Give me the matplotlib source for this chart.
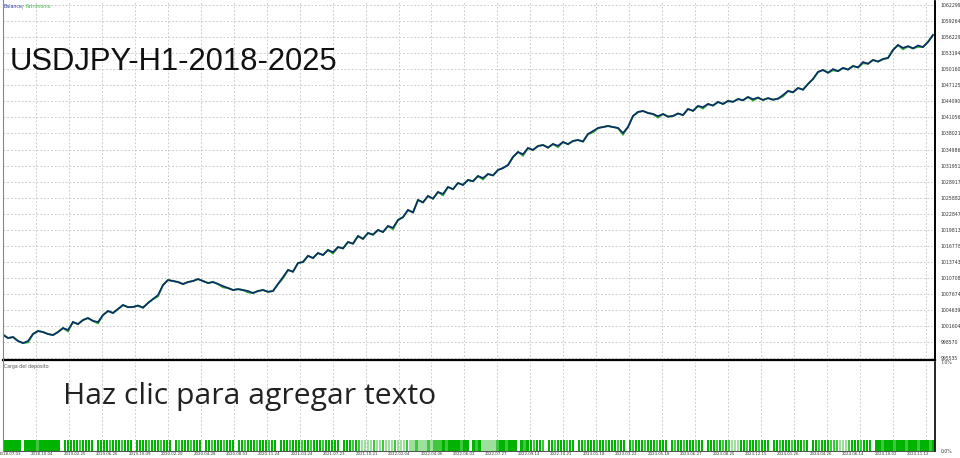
import matplotlib
matplotlib.use("Agg")
import matplotlib.pyplot as plt
from matplotlib.lines import Line2D

# ---------------- data ----------------
balance = [
    1000000, 999360, 999550, 998800, 998420, 998800, 1000120, 1000690, 1000500, 1000120,
    999930, 1000500, 1001250, 1000900, 1002390, 1002000, 1002770, 1003140, 1002600, 1002390,
    1003710, 1004470, 1004100, 1004840, 1005600, 1005200, 1005220, 1005500, 1005100, 1005980,
    1006730, 1007490, 1009380, 1010330, 1010140, 1009950, 1009570, 1009950, 1010140, 1010510,
    1010140, 1009760, 1009950, 1009570, 1009190, 1008810, 1008440, 1008600, 1008440, 1008250,
    1007870, 1008250, 1008440, 1008100, 1008250, 1009570, 1010890, 1012220, 1011900, 1013540,
    1013730, 1014900, 1014480, 1015430, 1015050, 1016000, 1015600, 1016560, 1016300, 1017510,
    1017200, 1018640, 1018100, 1019210, 1018900, 1019780, 1019400, 1020530, 1020200, 1021670,
    1022200, 1023560, 1023100, 1025450, 1025000, 1026200, 1025700, 1026960, 1026600, 1027900,
    1027500, 1028660, 1028300, 1029230, 1029000, 1029980, 1029600, 1030360, 1030100, 1031120,
    1031490, 1032060, 1033570, 1034520, 1034100, 1035270, 1034900, 1035650, 1035840, 1035350,
    1036030, 1035700, 1036410, 1036000, 1036600, 1036790, 1036500, 1037920, 1038490, 1039050,
    1039240, 1039430, 1039240, 1039050, 1038110, 1039240, 1041320, 1042080, 1042270, 1041890,
    1041700, 1041300, 1041700, 1041200, 1041320, 1041800, 1041500, 1042640, 1042300, 1043210,
    1043000, 1043590, 1043300, 1043970, 1043600, 1044160, 1044000, 1044530, 1044300, 1044910,
    1044500, 1044800, 1044350, 1044700, 1044400, 1044600, 1045290, 1046050, 1045800, 1046610,
    1046300, 1047370, 1048310, 1049640, 1050020, 1049500, 1050200, 1049800, 1050400, 1050100,
    1050770, 1050500, 1051530, 1051200, 1051910, 1051600, 1052090, 1052280, 1053800, 1054740,
    1054200, 1054500, 1054100, 1054650, 1054360, 1055310, 1056630,
]

# equity differs from balance only at a few trades (index: value)
equity_changes = {
    5: 998550, 13: 1000650, 19: 1002150, 31: 1007250, 44: 1008950, 49: 1008000,
    56: 1010650, 66: 1015350, 78: 1019950, 88: 1026350, 96: 1029350, 104: 1033850,
    111: 1035450, 118: 1038250, 124: 1037850, 131: 1041050, 140: 1042750,
    150: 1044250, 156: 1045050, 166: 1049950, 172: 1051300, 180: 1053950, 183: 1054400,
}

y_ticks = [995535, 998570, 1001604, 1004639, 1007674, 1010708, 1013743, 1016778,
           1019813, 1022847, 1025882, 1028917, 1031951, 1034986, 1038021, 1041056,
           1044090, 1047125, 1050160, 1053194, 1056229, 1059264, 1062299]

x_tick_labels = ["2018.07.03", "2018.10.04", "2019.02.25", "2019.06.26", "2019.10.09",
                 "2020.02.20", "2020.04.28", "2020.08.03", "2020.11.24", "2021.03.24",
                 "2021.07.23", "2021.10.21", "2022.02.04", "2022.04.06", "2022.06.02",
                 "2022.07.27", "2022.09.14", "2022.10.21", "2023.01.18", "2023.03.22",
                 "2023.05.18", "2023.06.27", "2023.08.25", "2023.12.15", "2024.01.26",
                 "2024.04.26", "2024.06.14", "2024.10.02", "2024.11.12"]

# deposit load per trade: '0' = no position, 1/2/3 = colour shade of the bar
load_pattern = (
    "11111101111211111110111112111101111211121110111121"
    "11211101211121110112111211101121112111211011121112"
    "11211121111101112123333233233323332332333232221211"
    "11211012133333211211101211211201121112110112111211"
    "21112110121112111211101211211121101112121233311211"
    "12111011211121112101121112223332111211101121112111"
    "2111211121"
)
load_level = 0.87      # deposit load, %
load_max = 7.0

# ---------------- layout helpers ----------------
W, H = 960, 458
fig = plt.figure(figsize=(W / 100, H / 100), dpi=100)
fig.patch.set_facecolor("white")


def fx(px):
    return px / W


def fy(py):
    return 1 - py / H


L, R = 3, 935
TOP, MID, BOT = 2, 360, 451

ax = fig.add_axes([fx(L), fy(MID), fx(R) - fx(L), fy(TOP) - fy(MID)])
ax2 = fig.add_axes([fx(L), fy(BOT), fx(R) - fx(L), fy(MID + 2) - fy(BOT)])

n = len(balance)
xs = list(range(n))
equity = [equity_changes.get(i, v) for i, v in enumerate(balance)]

xmax = (n - 1) + 0.4
ax.set_xlim(0, xmax)
ax.set_ylim(995215, 1062866)

grid_kw = dict(color="#c4c4c4", lw=0.6, dashes=(2.2, 2.2))

for t in y_ticks:
    ax.axhline(t, zorder=0, **grid_kw)

# vertical gridlines (pixel spaced, matching MT5 layout)
vgrid_px = [3 + 32.96 * k for k in range(29)]
for px in vgrid_px:
    fr = (px - L) / (R - L)
    ax.axvline(fr * xmax, zorder=0, **grid_kw)

ax.plot(xs, equity, color="#2eaa2e", lw=1.4, zorder=2, solid_joinstyle="miter")
ax.plot(xs, balance, color="#0b2c6b", lw=1.2, zorder=3, solid_joinstyle="miter")

ax.yaxis.tick_right()
ax.set_yticks(y_ticks)
ax.set_yticklabels([str(t) for t in y_ticks], fontsize=3.3, color="#333333")
ax.tick_params(axis="y", length=0, pad=4)
ax.set_xticks([])
for s in ["top", "left", "bottom"]:
    ax.spines[s].set_visible(False)
ax.spines["right"].set_color("black")
ax.spines["right"].set_linewidth(1.2)

# ---------------- lower pane: deposit load ----------------
nb = len(load_pattern)
shade = {"1": "#00b300", "2": "#3fc83f", "3": "#9ddf9d"}
bx, bh, bc = [], [], []
for i, ch in enumerate(load_pattern):
    if ch != "0":
        bx.append(i + 0.5)
        bh.append(load_level)
        bc.append(shade[ch])
ax2.bar(bx, bh, width=0.75, color=bc, linewidth=0, zorder=2)
ax2.set_xlim(0, nb)
ax2.set_ylim(0, load_max)

for px in vgrid_px:
    fr = (px - L) / (R - L)
    ax2.axvline(fr * nb, zorder=0, **grid_kw)

lbl_px = [10 + 32.43 * k for k in range(len(x_tick_labels))]
ax2.set_xticks([(p - L) / (R - L) * nb for p in lbl_px])
ax2.set_xticklabels(x_tick_labels, fontsize=2.9, color="#333333")
ax2.tick_params(axis="x", length=0, pad=1.0)
ax2.yaxis.tick_right()
ax2.set_yticks([0, load_max])
ax2.set_yticklabels(["0.0%", "7.0%"], fontsize=3.3, color="#333333")
ax2.tick_params(axis="y", length=0, pad=4)
for s in ["top", "left"]:
    ax2.spines[s].set_visible(False)
ax2.spines["right"].set_color("black")
ax2.spines["right"].set_linewidth(1.2)
ax2.spines["bottom"].set_color("#333333")
ax2.spines["bottom"].set_linewidth(0.6)

# frame lines
fig.add_artist(Line2D([fx(L), fx(R)], [fy(MID), fy(MID)], color="black", lw=1.6))
fig.add_artist(Line2D([fx(2.5), fx(2.5)], [fy(0), fy(BOT)], color="#888888", lw=0.8))
fig.add_artist(Line2D([fx(R), fx(R)], [fy(0), fy(MID)], color="black", lw=1.2))

# small captions
fig.text(fx(4), fy(7), "Balance", fontsize=3.4, color="#2b3fa0", va="center", ha="left")
fig.text(fx(21.5), fy(7), "/", fontsize=3.4, color="#555555", va="center", ha="left")
fig.text(fx(25), fy(7), "Patrimonio", fontsize=3.4, color="#3cb83c", va="center", ha="left")
fig.text(fx(4), fy(366), "Carga del depósito", fontsize=3.4, color="#555555",
         va="center", ha="left")

# slide overlay texts
fig.text(fx(10), fy(70), "USDJPY-H1-2018-2025", fontsize=22.3, color="#111111",
         family="Liberation Sans", va="baseline", ha="left")
fig.text(fx(63), fy(404), "Haz clic para agregar texto", fontsize=21.7, color="#222222",
         family="Open Sans", va="baseline", ha="left")

fig.savefig("out.png", dpi=100, facecolor="white")
